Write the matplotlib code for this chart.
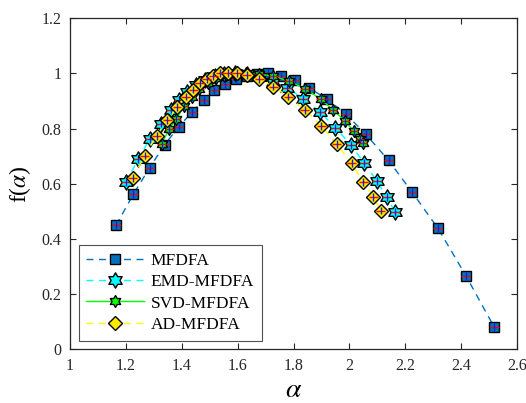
import matplotlib
matplotlib.use("Agg")
import matplotlib.pyplot as plt
import numpy as np
from matplotlib.path import Path

plt.rcParams['font.family'] = ['Liberation Serif', 'DejaVu Serif']
plt.rcParams['mathtext.fontset'] = 'stix'

# ---- data ----
mf_x = [1.165, 1.227, 1.285, 1.339, 1.390, 1.437, 1.478, 1.517, 1.556, 1.593, 1.632, 1.670,
        1.709, 1.754, 1.805, 1.857, 1.919, 1.987, 2.058, 2.140, 2.224, 2.316, 2.417, 2.518]
mf_y = [0.450, 0.562, 0.658, 0.742, 0.807, 0.860, 0.903, 0.938, 0.961, 0.979, 0.991, 0.998,
        1.000, 0.992, 0.976, 0.947, 0.907, 0.853, 0.780, 0.685, 0.570, 0.440, 0.267, 0.081]

emd_x = [1.200, 1.245, 1.285, 1.326, 1.360, 1.390, 1.420, 1.452, 1.485, 1.518, 1.553, 1.590,
         1.632, 1.680, 1.728, 1.778, 1.835, 1.895, 1.950, 2.005, 2.054, 2.098, 2.134, 2.164]
emd_y = [0.605, 0.690, 0.761, 0.818, 0.866, 0.903, 0.934, 0.958, 0.977, 0.990, 0.998, 1.000,
         0.996, 0.985, 0.970, 0.948, 0.908, 0.860, 0.803, 0.741, 0.674, 0.610, 0.552, 0.497]

svd_x = [1.328, 1.355, 1.381, 1.408, 1.435, 1.463, 1.493, 1.524, 1.557, 1.592, 1.630, 1.678,
         1.728, 1.783, 1.841, 1.897, 1.941, 1.985, 2.016, 2.038, 2.047]
svd_y = [0.745, 0.797, 0.836, 0.880, 0.915, 0.943, 0.965, 0.982, 0.993, 0.999, 1.000, 0.997,
         0.990, 0.972, 0.945, 0.907, 0.868, 0.827, 0.790, 0.762, 0.748]

ad_x = [1.224, 1.268, 1.310, 1.349, 1.383, 1.414, 1.442, 1.465, 1.489, 1.513, 1.537, 1.564,
        1.597, 1.632, 1.678, 1.728, 1.782, 1.841, 1.899, 1.955, 2.008, 2.050, 2.086, 2.112]
ad_y = [0.620, 0.702, 0.774, 0.830, 0.877, 0.916, 0.941, 0.964, 0.979, 0.991, 1.000, 1.000,
        1.000, 0.995, 0.979, 0.952, 0.916, 0.868, 0.810, 0.744, 0.674, 0.606, 0.552, 0.503]

labels = ['MFDFA', 'EMD-MFDFA', 'SVD-MFDFA', 'AD-MFDFA']
x_ticks = [1, 1.2, 1.4, 1.6, 1.8, 2, 2.2, 2.4, 2.6]
x_tick_labels = ['1', '1.2', '1.4', '1.6', '1.8', '2', '2.2', '2.4', '2.6']
y_ticks = [0, 0.2, 0.4, 0.6, 0.8, 1, 1.2]
y_tick_labels = ['0', '0.2', '0.4', '0.6', '0.8', '1', '1.2']

# hexagram marker path
ang = np.deg2rad(np.arange(12) * 30 + 90)
rad = np.where(np.arange(12) % 2 == 0, 1.0, 0.58)
hexagram = list(zip(rad * np.cos(ang), rad * np.sin(ang)))
hex_path = Path(hexagram + [hexagram[0]], closed=True)

# ---- styles ----
series = [
    (mf_x, mf_y, dict(color='#0072BD', ls=(0, (5, 4)), lw=1.0, marker='s', ms=7,
                      mfc='#0072BD', mec='black', mew=1.0)),
    (emd_x, emd_y, dict(color='#00FFFF', ls=(0, (5, 4)), lw=1.0, marker=hex_path, ms=11,
                        mfc='#00FFFF', mec='black', mew=1.0)),
    (svd_x, svd_y, dict(color='#00FF00', ls='-', lw=1.0, marker=hex_path, ms=8.5,
                        mfc='#00FF00', mec='black', mew=1.0)),
    (ad_x, ad_y, dict(color='#FFFF00', ls=(0, (5, 4)), lw=1.0, marker='D', ms=7,
                      mfc='#FFE800', mec='black', mew=1.0)),
]

fig = plt.figure(figsize=(5.26, 4.03), dpi=100)
ax = fig.add_axes([0.133, 0.133, 0.850, 0.822])

handles = []
for i, (xs, ys, st) in enumerate(series):
    h, = ax.plot(xs, ys, label=labels[i], zorder=2 + i, **st)
    handles.append(h)
    ax.errorbar(xs, ys, xerr=0.016, fmt='none', ecolor='red', elinewidth=1.0,
                capsize=0, zorder=2.5 + i)
    ax.errorbar(xs, ys, yerr=0.014, fmt='none', ecolor='#1020E0', elinewidth=1.0,
                capsize=0, zorder=2.5 + i)

ax.set_xlim(1, 2.6)
ax.set_ylim(0, 1.2)
ax.set_xticks(x_ticks)
ax.set_xticklabels(x_tick_labels)
ax.set_yticks(y_ticks)
ax.set_yticklabels(y_tick_labels)
ax.tick_params(direction='in', top=True, right=True, labelsize=11.5, length=4,
               width=0.8, pad=6, colors='#262626')
for s in ax.spines.values():
    s.set_linewidth(0.9)
    s.set_color('#262626')

ax.set_xlabel(r'$\alpha$', fontsize=20, labelpad=3)
ax.set_ylabel(r'f($\alpha$)', fontsize=17, labelpad=6)

leg = ax.legend(handles=handles, loc='lower left', fontsize=12.5, frameon=True,
                fancybox=False, edgecolor='#262626', borderaxespad=0.5,
                handlelength=3.3, labelspacing=0.3, borderpad=0.45, handletextpad=0.4)
leg.get_frame().set_linewidth(0.8)

fig.savefig('out.png', dpi=100)
